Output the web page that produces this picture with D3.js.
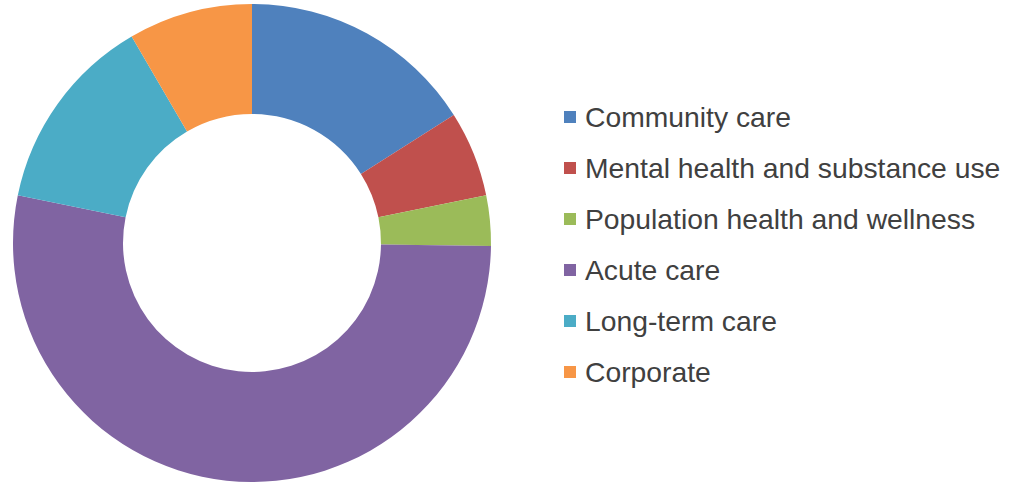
<!DOCTYPE html>
<html>
<head>
<meta charset="utf-8">
<script src="https://cdn.jsdelivr.net/npm/d3@7"></script>
<style>
  body { margin: 0; background: #fff; }
  svg { display: block; }
</style>
</head>
<body>
<script>
var width = 1017;
var height = 483;

// data (percent of total)
var categories = ["Community care", "Mental health and substance use", "Population health and wellness",
                  "Acute care", "Long-term care", "Corporate"];
var values = [16.0, 5.8, 3.4, 53.0, 13.4, 8.4];
var colors = ["#4F81BD", "#C0504D", "#9BBB59", "#8064A2", "#4BACC6", "#F79646"];

var svg = d3.select("body")
            .append("svg")
            .attr("width", width)
            .attr("height", height);

var outerRadius = 239;
var innerRadius = 129;

var pie = d3.pie().sort(null);
var arc = d3.arc()
            .innerRadius(innerRadius)
            .outerRadius(outerRadius);

var color = d3.scaleOrdinal().domain(categories).range(colors);

var arcs = svg.append("g")
              .attr("transform", "translate(252,243)")
              .selectAll("path")
              .data(pie(values))
              .enter()
              .append("path")
              .attr("fill", function(d, i) { return color(categories[i]); })
              .attr("d", arc);

// legend
var legend = svg.append("g").attr("transform", "translate(564,117)");
var rows = legend.selectAll("g")
                 .data(categories)
                 .enter()
                 .append("g")
                 .attr("transform", function(d, i) { return "translate(0," + (i * 51) + ")"; });

rows.append("rect")
    .attr("x", 0)
    .attr("y", -6)
    .attr("width", 12)
    .attr("height", 12)
    .attr("fill", function(d) { return color(d); });

rows.append("text")
    .attr("x", 21)
    .attr("y", 10)
    .attr("font-family", "'Liberation Sans', Arial, sans-serif")
    .attr("font-size", "28.3px")
    .attr("fill", "#404040")
    .text(function(d) { return d; });
</script>
</body>
</html>
